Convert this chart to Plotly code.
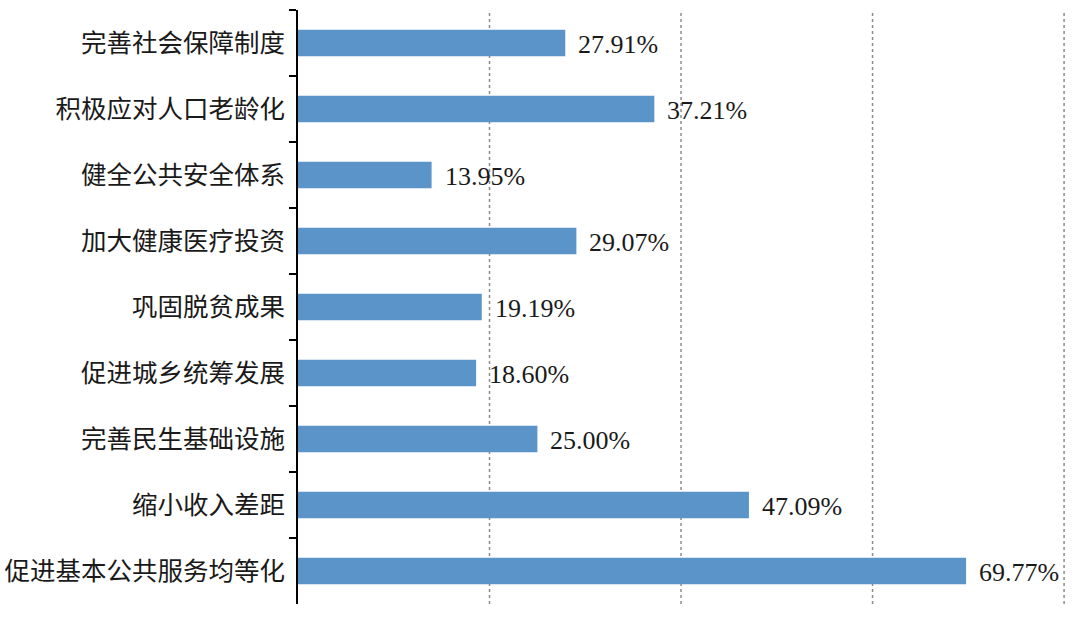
import plotly.graph_objects as go

# Survey items (top to bottom) and share of respondents choosing each (%)
categories = [
    "完善社会保障制度",
    "积极应对人口老龄化",
    "健全公共安全体系",
    "加大健康医疗投资",
    "巩固脱贫成果",
    "促进城乡统筹发展",
    "完善民生基础设施",
    "缩小收入差距",
    "促进基本公共服务均等化",
]
values = [27.91, 37.21, 13.95, 29.07, 19.19, 18.60, 25.00, 47.09, 69.77]
value_labels = [f"{v:.2f}%" for v in values]
grid_values = [20, 40, 60, 80]

fig = go.Figure()
fig.add_trace(go.Bar(
    x=values,
    y=categories,
    orientation="h",
    width=0.4,
    marker=dict(color="#5B94C9", line=dict(width=0)),
    hoverinfo="skip",
))

# Percentage labels placed just past the end of each bar
for cat, v, lab in zip(categories, values, value_labels):
    fig.add_annotation(
        x=v, y=cat, text=lab, showarrow=False,
        xanchor="left", yanchor="middle", xshift=11, yshift=-1,
        font=dict(family="Liberation Serif, Times New Roman, serif", size=26, color="#1a1a1a"),
    )

# Dotted vertical gridlines
for g in grid_values:
    fig.add_shape(
        type="line", xref="x", yref="paper", x0=g, x1=g, y0=0, y1=1,
        line=dict(color="#8c8c8c", width=1.5, dash="dot"), layer="below",
    )

fig.update_layout(
    width=1080, height=616,
    margin=dict(l=298, r=14, t=10, b=12),
    plot_bgcolor="white", paper_bgcolor="white",
    showlegend=False,
    xaxis=dict(
        range=[0, 80.2],
        showticklabels=False, ticks="",
        showgrid=False, zeroline=False, showline=False,
    ),
    yaxis=dict(
        categoryorder="array", categoryarray=categories,
        autorange="reversed", automargin=False,
        showline=True, linecolor="black", linewidth=2,
        ticks="outside", tickson="boundaries", ticklen=7, tickwidth=2, tickcolor="black",
        ticklabelstandoff=6,
        showgrid=False, zeroline=False,
        tickfont=dict(family="Noto Sans CJK SC", size=25.5, color="#1a1a1a"),
    ),
)

fig.write_html("out.html")
